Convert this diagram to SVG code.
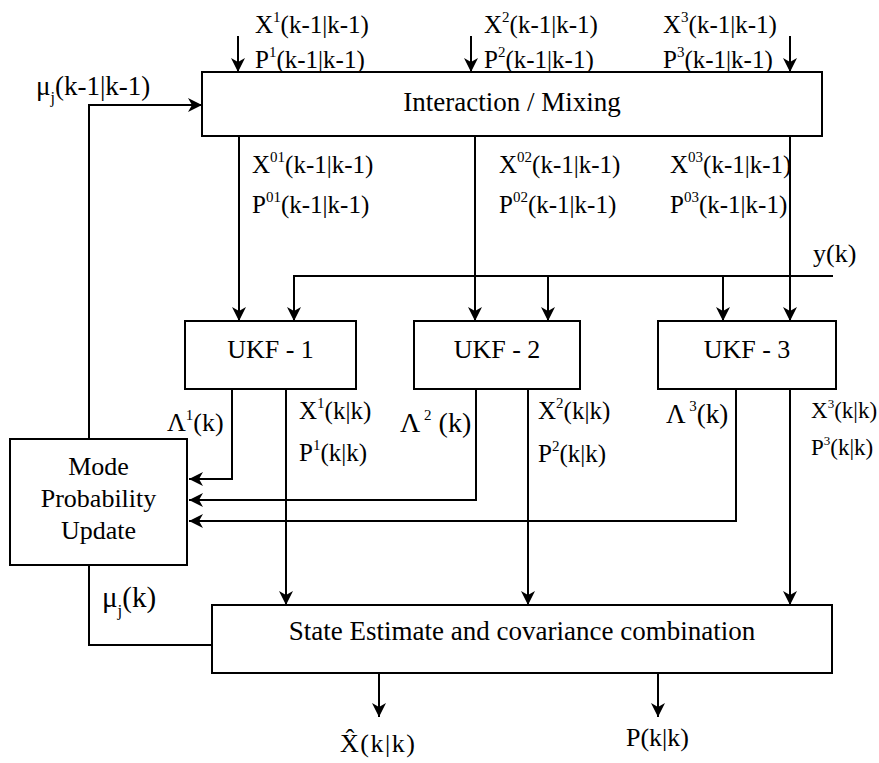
<svg xmlns="http://www.w3.org/2000/svg" width="879" height="763" viewBox="0 0 879 763" font-family="'Liberation Serif', 'DejaVu Serif', 'Times New Roman', serif">
<defs>
<style>
text{font-family:"Liberation Serif","DejaVu Serif","Times New Roman",serif;fill:#000}
.box{fill:#fff;stroke:#000;stroke-width:2}
.ln{fill:none;stroke:#000;stroke-width:2}
.t27{font-size:27px}
.t26{font-size:26px}
.t25{font-size:25px}
.t23{font-size:23px}
.sup{font-size:15px}
.c{text-anchor:middle}
</style>
<marker id="ah" viewBox="0 0 14 14" refX="14" refY="7" markerWidth="14" markerHeight="14" markerUnits="userSpaceOnUse" orient="auto">
<path d="M0,0 L14,7 L0,14 L4,7 z" fill="#000"/>
</marker>
</defs>
<rect width="879" height="763" fill="#fff"/>

<g id="connectors">
<line class="ln" x1="238" y1="36" x2="238" y2="72" marker-end="url(#ah)"/>
<line class="ln" x1="471" y1="36" x2="471" y2="72" marker-end="url(#ah)"/>
<line class="ln" x1="790" y1="36" x2="790" y2="72" marker-end="url(#ah)"/>
<polyline class="ln" points="89,439 89,105 202,105" marker-end="url(#ah)"/>
<line class="ln" x1="239" y1="136" x2="239" y2="321" marker-end="url(#ah)"/>
<line class="ln" x1="475" y1="136" x2="475" y2="321" marker-end="url(#ah)"/>
<line class="ln" x1="790" y1="136" x2="790" y2="321" marker-end="url(#ah)"/>
<line class="ln" x1="833" y1="276" x2="294" y2="276"/>
<line class="ln" x1="294" y1="275" x2="294" y2="321" marker-end="url(#ah)"/>
<line class="ln" x1="548" y1="276" x2="548" y2="321" marker-end="url(#ah)"/>
<line class="ln" x1="723" y1="276" x2="723" y2="321" marker-end="url(#ah)"/>
<polyline class="ln" points="232,389 232,479 189,479" marker-end="url(#ah)"/>
<polyline class="ln" points="476,389 476,500 189,500" marker-end="url(#ah)"/>
<polyline class="ln" points="736,389 736,521 189,521" marker-end="url(#ah)"/>
<line class="ln" x1="286" y1="389" x2="286" y2="605" marker-end="url(#ah)"/>
<line class="ln" x1="528" y1="389" x2="528" y2="605" marker-end="url(#ah)"/>
<line class="ln" x1="790" y1="389" x2="790" y2="605" marker-end="url(#ah)"/>
<polyline class="ln" points="89,565 89,645 212,645"/>
<line class="ln" x1="379" y1="673" x2="379" y2="717" marker-end="url(#ah)"/>
<line class="ln" x1="658" y1="673" x2="658" y2="717" marker-end="url(#ah)"/>
</g>

<g id="labels">
<text class="t25" x="255" y="33">X<tspan class="sup" dy="-11">1</tspan><tspan dy="11">(k-1|k-1)</tspan></text>
<text class="t25" x="255" y="68">P<tspan class="sup" dy="-11">1</tspan><tspan dy="11">(k-1|k-1)</tspan></text>
<text class="t25" x="484" y="33">X<tspan class="sup" dy="-11">2</tspan><tspan dy="11">(k-1|k-1)</tspan></text>
<text class="t25" x="484" y="68">P<tspan class="sup" dy="-11">2</tspan><tspan dy="11">(k-1|k-1)</tspan></text>
<text class="t25" x="663" y="33">X<tspan class="sup" dy="-11">3</tspan><tspan dy="11">(k-1|k-1)</tspan></text>
<text class="t25" x="663" y="68">P<tspan class="sup" dy="-11">3</tspan><tspan dy="11">(k-1|k-1)</tspan></text>
<text x="36" y="95" font-size="27">μ<tspan font-size="16" dy="8">j</tspan><tspan dy="-8">(k-1|k-1)</tspan></text>

<text class="t25" x="252" y="173">X<tspan class="sup" dy="-11">01</tspan><tspan dy="11">(k-1|k-1)</tspan></text>
<text class="t25" x="252" y="213">P<tspan class="sup" dy="-11">01</tspan><tspan dy="11">(k-1|k-1)</tspan></text>
<text class="t25" x="499" y="173">X<tspan class="sup" dy="-11">02</tspan><tspan dy="11">(k-1|k-1)</tspan></text>
<text class="t25" x="499" y="213">P<tspan class="sup" dy="-11">02</tspan><tspan dy="11">(k-1|k-1)</tspan></text>
<text class="t25" x="670" y="173">X<tspan class="sup" dy="-11">03</tspan><tspan dy="11">(k-1|k-1)</tspan></text>
<text class="t25" x="670" y="213">P<tspan class="sup" dy="-11">03</tspan><tspan dy="11">(k-1|k-1)</tspan></text>
<text class="t26" x="813" y="262">y(k)</text>

<text class="t26" x="167" y="431">Λ<tspan class="sup" dy="-11">1</tspan><tspan dy="11">(k)</tspan></text>
<text class="t25" x="299" y="419">X<tspan class="sup" dy="-11">1</tspan><tspan dy="11">(k|k)</tspan></text>
<text class="t25" x="299" y="461">P<tspan class="sup" dy="-11">1</tspan><tspan dy="11">(k|k)</tspan></text>
<text x="400" y="432" font-size="28">Λ<tspan class="sup" dy="-12"> 2</tspan><tspan dy="12"> (k)</tspan></text>
<text class="t25" x="538" y="419">X<tspan class="sup" dy="-11">2</tspan><tspan dy="11">(k|k)</tspan></text>
<text class="t25" x="538" y="462">P<tspan class="sup" dy="-11">2</tspan><tspan dy="11">(k|k)</tspan></text>
<text x="666" y="423" font-size="27">Λ<tspan class="sup" dy="-12"> 3</tspan><tspan dy="12">(k)</tspan></text>
<text class="t23" x="811" y="418">X<tspan font-size="13" dy="-10">3</tspan><tspan dy="10">(k|k)</tspan></text>
<text class="t23" x="811" y="455">P<tspan font-size="13" dy="-10">3</tspan><tspan dy="10">(k|k)</tspan></text>

<text x="102" y="607" font-size="29">μ<tspan font-size="17" dy="9">j</tspan><tspan dy="-9">(k)</tspan></text>
<text class="t26" x="340" y="752" textLength="75" lengthAdjust="spacing">X̂(k|k)</text>
<text class="t26" x="626" y="746">P(k|k)</text>
</g>

<g id="interaction">
<rect class="box" x="202" y="72" width="620" height="64"/>
<text class="t27 c" x="512" y="111">Interaction / Mixing</text>
</g>
<g id="ukf1">
<rect class="box" x="185" y="321" width="171" height="68"/>
<text class="t26 c" x="270.5" y="358">UKF - 1</text>
</g>
<g id="ukf2">
<rect class="box" x="414" y="321" width="166" height="68"/>
<text class="t26 c" x="497" y="358">UKF - 2</text>
</g>
<g id="ukf3">
<rect class="box" x="658" y="321" width="178" height="68"/>
<text class="t26 c" x="747" y="358">UKF - 3</text>
</g>
<g id="mode">
<rect class="box" x="10" y="439" width="177" height="126"/>
<text class="t26 c" x="98.5" y="475">Mode</text>
<text class="t26 c" x="98.5" y="507">Probability</text>
<text class="t26 c" x="98.5" y="539">Update</text>
</g>
<g id="state">
<rect class="box" x="212" y="605" width="620" height="68"/>
<text class="t27 c" x="522" y="640">State Estimate and covariance combination</text>
</g>
</svg>
